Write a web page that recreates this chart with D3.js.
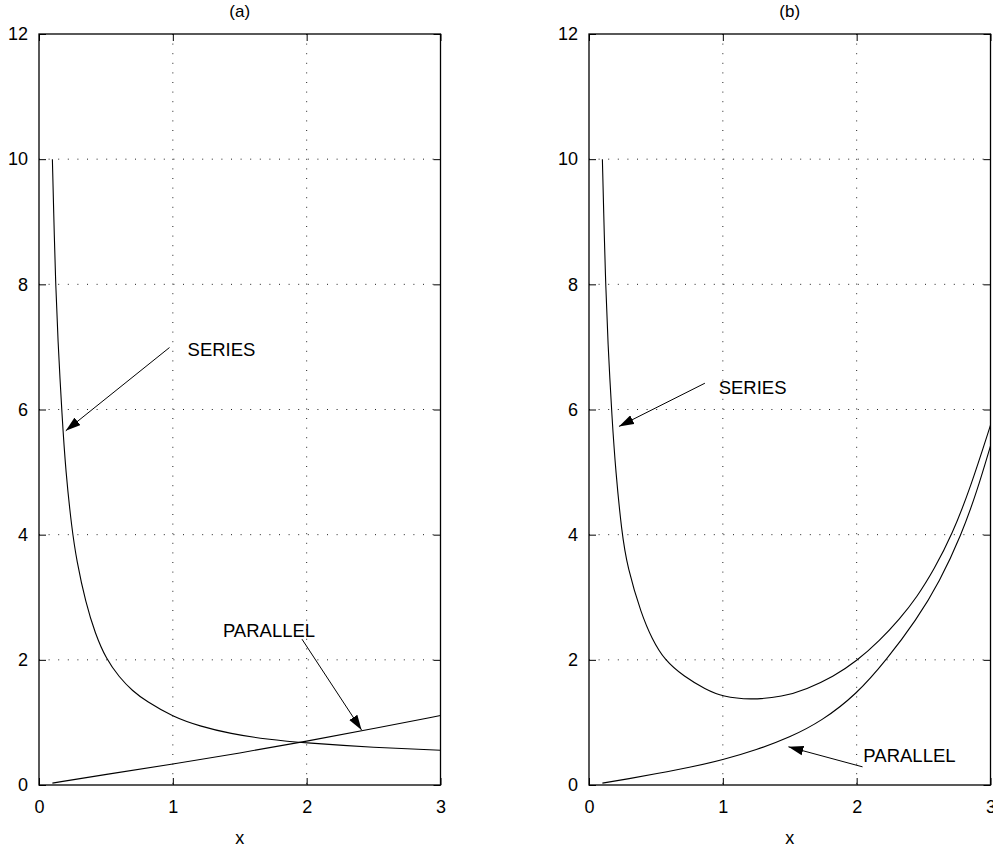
<!DOCTYPE html>
<html>
<head>
<meta charset="utf-8">
<script src="https://cdn.jsdelivr.net/npm/d3@7"></script>
<style>
  body { margin: 0; background: #fff; }
  svg { display: block; font-family: "Liberation Sans", Arial, sans-serif; }
</style>
</head>
<body>
<div id="chart"></div>
<script>
// Tick values
const xTicks = [0, 1, 2, 3];
const yTicks = [0, 2, 4, 6, 8, 10, 12];
const panelTitles = ["(a)", "(b)"];

// Panel (a) curves
const seriesAX = [0.1, 0.115, 0.125, 0.14, 0.172, 0.2, 0.245, 0.28, 0.35, 0.42, 0.5, 0.6, 0.7, 0.8, 1.0, 1.2, 1.43, 1.7, 2.0, 2.5, 3.0];
const seriesAY = [10.0, 8.7, 8.0, 7.15, 5.9, 5.0, 4.1, 3.6, 2.9, 2.42, 2.02, 1.72, 1.5, 1.34, 1.09, 0.94, 0.82, 0.73, 0.67, 0.6, 0.555];
const parallelAX = [0.1, 0.5, 1.0, 1.5, 2.0, 2.5, 3.0];
const parallelAY = [0.03, 0.17, 0.335, 0.51, 0.7, 0.9, 1.11];

// Panel (b) curves
const seriesBX = [0.1, 0.115, 0.125, 0.14, 0.172, 0.2, 0.244, 0.286, 0.393, 0.47, 0.5625, 0.712, 0.87, 1.0, 1.2, 1.45, 1.625, 1.825, 2.0, 2.173, 2.32, 2.45, 2.58, 2.713, 2.85, 3.0];
const seriesBY = [10.0, 8.7, 8.0, 7.1, 5.85, 5.0, 4.05, 3.48, 2.72, 2.34, 2.0, 1.73, 1.53, 1.41, 1.36, 1.41, 1.53, 1.73, 1.98, 2.31, 2.65, 3.0, 3.45, 4.0, 4.75, 5.75];
const parallelBX = [0.1, 0.3, 0.5, 0.75, 1.0, 1.25, 1.5, 1.738, 2.0, 2.223, 2.447, 2.62, 2.783, 2.9, 3.0];
const parallelBY = [0.03, 0.1, 0.18, 0.28, 0.4, 0.56, 0.76, 1.02, 1.45, 2.0, 2.64, 3.25, 4.0, 4.7, 5.42];

// Annotations: [text, textX, textY, tailX, tailY, tipX, tipY] in data units
const notesA = [
  ["SERIES", 1.11, 6.86, 0.975, 6.99, 0.2, 5.66],
  ["PARALLEL", 1.374, 2.37, 1.965, 2.33, 2.41, 0.88]
];
const notesB = [
  ["SERIES", 0.969, 6.25, 0.866, 6.42, 0.224, 5.73],
  ["PARALLEL", 2.05, 0.37, 2.044, 0.29, 1.49, 0.61]
];

const zip = (xs, ys) => xs.map((x, i) => ({x: x, y: ys[i]}));

const width = 993, height = 853;
const svg = d3.select("#chart").append("svg")
  .attr("width", width)
  .attr("height", height);

svg.append("defs").append("marker")
  .attr("id", "arrow")
  .attr("markerUnits", "userSpaceOnUse")
  .attr("viewBox", "0 -5 15 10")
  .attr("refX", 15)
  .attr("refY", 0)
  .attr("markerWidth", 15)
  .attr("markerHeight", 10)
  .attr("orient", "auto")
  .append("path")
  .attr("d", "M0,-4.8L15,0L0,4.8Z")
  .attr("fill", "#000");

const panelW = 401.5, panelH = 751, plotTop = 34;
const panelLefts = [39, 589];

function drawPanel(idx, curves, notes) {
  const left = panelLefts[idx];
  const x = d3.scaleLinear().domain([0, 3]).range([left, left + panelW]);
  const y = d3.scaleLinear().domain([0, 12]).range([plotTop + panelH, plotTop]);
  const g = svg.append("g");

  // dotted grid
  g.selectAll(".gx").data(xTicks.slice(1, -1)).join("line")
    .attr("x1", d => x(d)).attr("x2", d => x(d))
    .attr("y1", plotTop).attr("y2", plotTop + panelH)
    .attr("stroke", "#222").attr("stroke-width", 1)
    .attr("stroke-dasharray", "1,8.6");
  g.selectAll(".gy").data(yTicks.slice(1, -1)).join("line")
    .attr("x1", left).attr("x2", left + panelW)
    .attr("y1", d => y(d)).attr("y2", d => y(d))
    .attr("stroke", "#222").attr("stroke-width", 1)
    .attr("stroke-dasharray", "1,8.6");

  // axes with inward ticks
  const fmt = d3.format("d");
  const ax = g.append("g").attr("transform", `translate(0,${plotTop + panelH})`)
    .call(d3.axisBottom(x).tickValues(xTicks).tickFormat(fmt).tickSizeInner(-7).tickSizeOuter(0).tickPadding(15));
  const axT = g.append("g").attr("transform", `translate(0,${plotTop})`)
    .call(d3.axisTop(x).tickValues(xTicks).tickFormat("").tickSizeInner(-7).tickSizeOuter(0));
  const ay = g.append("g").attr("transform", `translate(${left},0)`)
    .call(d3.axisLeft(y).tickValues(yTicks).tickFormat(fmt).tickSizeInner(-7).tickSizeOuter(0).tickPadding(11));
  const ayR = g.append("g").attr("transform", `translate(${left + panelW},0)`)
    .call(d3.axisRight(y).tickValues(yTicks).tickFormat("").tickSizeInner(-7).tickSizeOuter(0));
  [ax, axT, ay, ayR].forEach(a => {
    a.select(".domain").remove();
    a.selectAll("line").attr("stroke", "#000");
    a.selectAll("text").attr("font-size", 18).attr("fill", "#000")
      .attr("font-family", "'Liberation Sans', Arial, sans-serif");
  });

  // box
  g.append("rect")
    .attr("x", left).attr("y", plotTop)
    .attr("width", panelW).attr("height", panelH)
    .attr("fill", "none").attr("stroke", "#000").attr("stroke-width", 1.3);

  // curves
  const line = d3.line().x(d => x(d.x)).y(d => y(d.y)).curve(d3.curveBasis);
  curves.forEach(c => {
    g.append("path").datum(c)
      .attr("d", line)
      .attr("fill", "none").attr("stroke", "#000").attr("stroke-width", 1.1);
  });

  // annotations
  notes.forEach(n => {
    g.append("line")
      .attr("x1", x(n[3])).attr("y1", y(n[4]))
      .attr("x2", x(n[5])).attr("y2", y(n[6]))
      .attr("stroke", "#000").attr("stroke-width", 1)
      .attr("marker-end", "url(#arrow)");
    g.append("text")
      .attr("x", x(n[1])).attr("y", y(n[2]))
      .attr("font-size", 18.5)
      .text(n[0]);
  });

  // titles
  g.append("text")
    .attr("x", left + panelW / 2).attr("y", 17)
    .attr("text-anchor", "middle").attr("font-size", 17)
    .text(panelTitles[idx]);
  g.append("text")
    .attr("x", left + panelW / 2).attr("y", 844)
    .attr("text-anchor", "middle").attr("font-size", 18)
    .text("x");
}

drawPanel(0, [zip(seriesAX, seriesAY), zip(parallelAX, parallelAY)], notesA);
drawPanel(1, [zip(seriesBX, seriesBY), zip(parallelBX, parallelBY)], notesB);
</script>
</body>
</html>
